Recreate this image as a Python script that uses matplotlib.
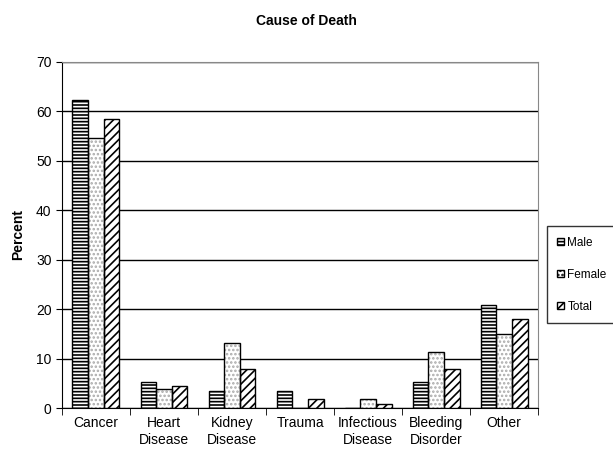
import matplotlib
matplotlib.use("Agg")
import matplotlib.pyplot as plt
from matplotlib.patches import Patch
import numpy as np

plt.rcParams['font.family'] = ['Liberation Sans', 'DejaVu Sans']
plt.rcParams['hatch.linewidth'] = 1.2

# Data
categories = ["Cancer", "Heart\nDisease", "Kidney\nDisease", "Trauma",
              "Infectious\nDisease", "Bleeding\nDisorder", "Other"]
male = [62.3, 5.2, 3.4, 3.4, 0.0, 5.3, 20.8]
female = [54.6, 3.8, 13.1, 0.0, 1.8, 11.3, 15.0]
total = [58.5, 4.4, 8.0, 1.8, 0.9, 8.0, 18.0]

fig = plt.figure(figsize=(6.13, 4.58), dpi=100)
ax = fig.add_axes([0.101, 0.109, 0.777, 0.756])

x = np.arange(len(categories))
w = 0.23
series = [(male, "Male", "-----", "black"),
          (female, "Female", "....", "#aaaaaa"),
          (total, "Total", "////", "black")]
handles = []
for i, (vals, name, hatch, hc) in enumerate(series):
    # hatch layer, then a black outline on top
    ax.bar(x + (i - 1) * w, vals, w, color="white", edgecolor=hc,
           hatch=hatch, linewidth=0, zorder=3)
    ax.bar(x + (i - 1) * w, vals, w, fill=False, edgecolor="black",
           linewidth=1.0, zorder=4)
    handles.append(Patch(facecolor="white", edgecolor="black", hatch=hatch, label=name))

ax.set_xlim(-0.5, len(categories) - 0.5)
ax.set_ylim(0, 70)
ax.set_yticks(range(0, 71, 10))
ax.yaxis.grid(True, color="black", linewidth=1.0, zorder=0)
ax.set_xticks(x)
ax.set_xticklabels(categories, fontsize=10)
ax.tick_params(axis="x", length=0, pad=6)
ax.set_xticks(np.arange(-0.5, len(categories), 1), minor=True)
ax.tick_params(axis="x", which="minor", length=5, direction="out")
ax.tick_params(axis="y", labelsize=10, length=4, direction="out")
for s in ["top", "right"]:
    ax.spines[s].set_color("#888888")

ax.set_ylabel("Percent", fontsize=10, fontweight="bold", labelpad=8)
fig.text(0.5, 0.955, "Cause of Death", ha="center", va="center",
         fontsize=10, fontweight="bold")

leg = fig.legend(handles=handles, loc="center left", bbox_to_anchor=(0.888, 0.4),
                 fontsize=8.5, frameon=True, fancybox=False, edgecolor="black",
                 handlelength=0.6, handleheight=0.6, handletextpad=0.25,
                 labelspacing=1.7, borderpad=0.9, borderaxespad=0.2)
leg.get_frame().set_linewidth(1.0)

fig.savefig("out.png", dpi=100)
